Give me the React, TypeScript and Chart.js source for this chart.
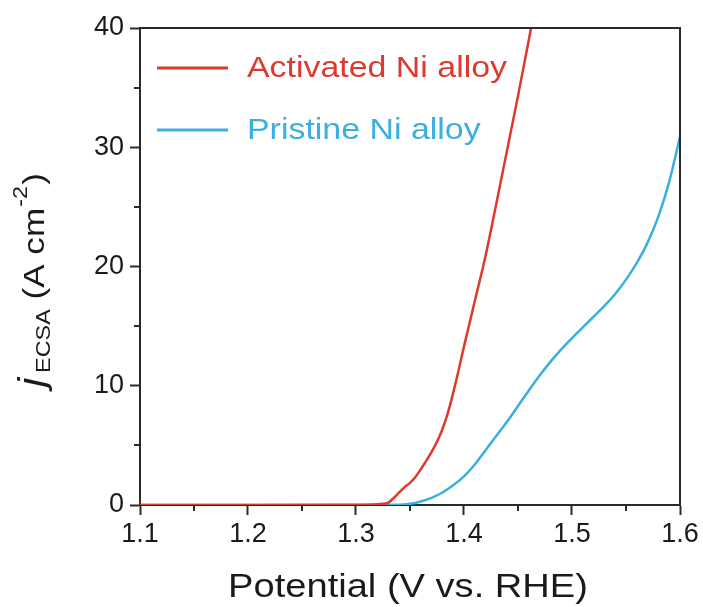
import React, { useEffect, useRef } from "react";
import { Chart, registerables } from "chart.js";

Chart.register(...registerables);

// ---- data ----
const activatedPotential = [1.1, 1.2, 1.3, 1.32, 1.325, 1.33, 1.335, 1.34, 1.345, 1.35, 1.355, 1.36, 1.365, 1.37, 1.375, 1.38, 1.385, 1.39, 1.395, 1.4, 1.405, 1.41, 1.42, 1.43, 1.44, 1.45, 1.46, 1.465];
const activatedCurrent = [0, 0, 0.02, 0.06, 0.1, 0.2, 0.6, 1.05, 1.5, 1.85, 2.35, 3.0, 3.7, 4.45, 5.3, 6.35, 7.7, 9.4, 11.3, 13.3, 15.2, 17.1, 20.9, 25.3, 29.8, 34.3, 39.0, 41.4];

const pristinePotential = [1.1, 1.2, 1.3, 1.34, 1.35, 1.36, 1.37, 1.38, 1.39, 1.4, 1.41, 1.42, 1.43, 1.44, 1.45, 1.46, 1.47, 1.48, 1.49, 1.5, 1.51, 1.52, 1.53, 1.54, 1.55, 1.56, 1.57, 1.58, 1.59, 1.6];
const pristineCurrent = [0, 0, 0, 0.02, 0.1, 0.3, 0.6, 1.05, 1.65, 2.4, 3.4, 4.6, 5.8, 7.0, 8.3, 9.6, 10.85, 12.0, 13.05, 14.0, 14.9, 15.8, 16.7, 17.7, 18.9, 20.3, 22.0, 24.2, 27.1, 30.9];

const seriesLabels = ["Activated Ni alloy", "Pristine Ni alloy"];
const xTicks = [1.1, 1.2, 1.3, 1.4, 1.5, 1.6];
const yTicks = [0, 10, 20, 30, 40];
const xTitle = "Potential (V vs. RHE)";

const RED = "#dc3a2c";
const BLUE = "#3aafe0";
const AXIS = "#2a2a2a";
const TEXT = "#1a1a1a";
const FONT = '"Liberation Sans", Arial, Helvetica, sans-serif';

export default function App() {
  const ref = useRef<HTMLCanvasElement>(null);

  useEffect(() => {
    const canvas = ref.current;
    if (!canvas) return;

    const extras = {
      id: "extras",
      afterDraw(chart: any) {
        const { ctx, chartArea: a, scales } = chart;
        const xs = scales.x;
        const ys = scales.y;
        ctx.save();
        // top & right frame
        ctx.strokeStyle = AXIS;
        ctx.lineWidth = 2;
        ctx.beginPath();
        ctx.moveTo(a.left, a.top);
        ctx.lineTo(a.right, a.top);
        ctx.lineTo(a.right, a.bottom);
        ctx.stroke();
        // minor ticks
        ctx.beginPath();
        for (let i = 0; i < xTicks.length - 1; i++) {
          const px = Math.round(xs.getPixelForValue((xTicks[i] + xTicks[i + 1]) / 2));
          ctx.moveTo(px, a.bottom);
          ctx.lineTo(px, a.bottom + 6);
        }
        for (let i = 0; i < yTicks.length - 1; i++) {
          const py = Math.round(ys.getPixelForValue((yTicks[i] + yTicks[i + 1]) / 2));
          ctx.moveTo(a.left, py);
          ctx.lineTo(a.left - 6, py);
        }
        ctx.stroke();

        // legend
        const colors = [RED, BLUE];
        const rows = [68, 130];
        ctx.lineWidth = 3;
        rows.forEach((ry, i) => {
          ctx.strokeStyle = colors[i];
          ctx.beginPath();
          ctx.moveTo(157, ry);
          ctx.lineTo(228, ry);
          ctx.stroke();
          ctx.save();
          ctx.fillStyle = colors[i];
          ctx.font = `30px ${FONT}`;
          ctx.textBaseline = "alphabetic";
          ctx.textAlign = "left";
          ctx.translate(247, ry + 9);
          ctx.scale(1.13, 1);
          ctx.fillText(seriesLabels[i], 0, 0);
          ctx.restore();
        });

        // x title
        ctx.save();
        ctx.fillStyle = TEXT;
        ctx.font = `34px ${FONT}`;
        ctx.textAlign = "center";
        ctx.textBaseline = "alphabetic";
        ctx.translate((a.left + a.right) / 2 - 2, 597);
        ctx.scale(1.12, 1);
        ctx.fillText(xTitle, 0, 0);
        ctx.restore();

        // y title  j_ECSA (A cm^-2)
        ctx.save();
        ctx.fillStyle = TEXT;
        ctx.textBaseline = "alphabetic";
        ctx.textAlign = "left";
        ctx.translate(44, 280);
        ctx.rotate(-Math.PI / 2);
        ctx.scale(1.17, 1);
        const parts = [
          { t: "j", f: `italic 36px ${FONT}`, dy: 0, gap: 4 },
          { t: "ECSA", f: `20px ${FONT}`, dy: 6, gap: 0 },
          { t: " (A cm", f: `30px ${FONT}`, dy: 0, gap: 1 },
          { t: "-2", f: `20px ${FONT}`, dy: -17, gap: 1 },
          { t: ")", f: `30px ${FONT}`, dy: 0, gap: 0 },
        ];
        let total = 0;
        parts.forEach((p) => {
          ctx.font = p.f;
          total += ctx.measureText(p.t).width + p.gap;
        });
        let x = -total / 2;
        parts.forEach((p) => {
          ctx.font = p.f;
          ctx.fillText(p.t, x, p.dy);
          x += ctx.measureText(p.t).width + p.gap;
        });
        ctx.restore();

        ctx.restore();
      },
    };

    const chart = new Chart(canvas, {
      type: "line",
      data: {
        datasets: [
          {
            label: seriesLabels[0],
            data: activatedPotential.map((x, i) => ({ x, y: activatedCurrent[i] })),
            borderColor: RED,
            borderWidth: 2.5,
            pointRadius: 0,
            fill: false,
            cubicInterpolationMode: "monotone",
          },
          {
            label: seriesLabels[1],
            data: pristinePotential.map((x, i) => ({ x, y: pristineCurrent[i] })),
            borderColor: BLUE,
            borderWidth: 2.5,
            pointRadius: 0,
            fill: false,
            cubicInterpolationMode: "monotone",
          },
        ],
      },
      options: {
        responsive: false,
        animation: false,
        events: [],
        layout: { padding: { top: 28, right: 23, left: 0, bottom: 0 } },
        plugins: { legend: { display: false }, tooltip: { enabled: false } },
        scales: {
          x: {
            type: "linear",
            min: 1.1,
            max: 1.6,
            afterBuildTicks: (s: any) => {
              s.ticks = xTicks.map((v) => ({ value: v }));
            },
            afterFit: (s: any) => {
              s.height = 102;
            },
            grid: { display: true, drawOnChartArea: false, drawTicks: true, tickLength: 10, tickWidth: 2, tickColor: AXIS },
            border: { display: true, color: AXIS, width: 2 },
            ticks: {
              autoSkip: false,
              maxRotation: 0,
              padding: 3,
              color: TEXT,
              font: { size: 27, family: FONT },
              callback: (v: any) => Number(v).toFixed(1),
            },
          },
          y: {
            type: "linear",
            min: 0,
            max: 40,
            afterBuildTicks: (s: any) => {
              s.ticks = yTicks.map((v) => ({ value: v }));
            },
            afterFit: (s: any) => {
              s.width = 140;
            },
            grid: { display: true, drawOnChartArea: false, drawTicks: true, tickLength: 10, tickWidth: 2, tickColor: AXIS },
            border: { display: true, color: AXIS, width: 2 },
            ticks: {
              padding: 6,
              color: TEXT,
              font: { size: 27, family: FONT },
              callback: (v: any) => String(v),
            },
          },
        },
      },
      plugins: [extras],
    } as any);

    return () => chart.destroy();
  }, []);

  return (
    <div style={{ position: "absolute", left: 0, top: 0, width: 703, height: 607, background: "#fff" }}>
      <canvas ref={ref} width={703} height={607} style={{ display: "block" }} />
    </div>
  );
}
